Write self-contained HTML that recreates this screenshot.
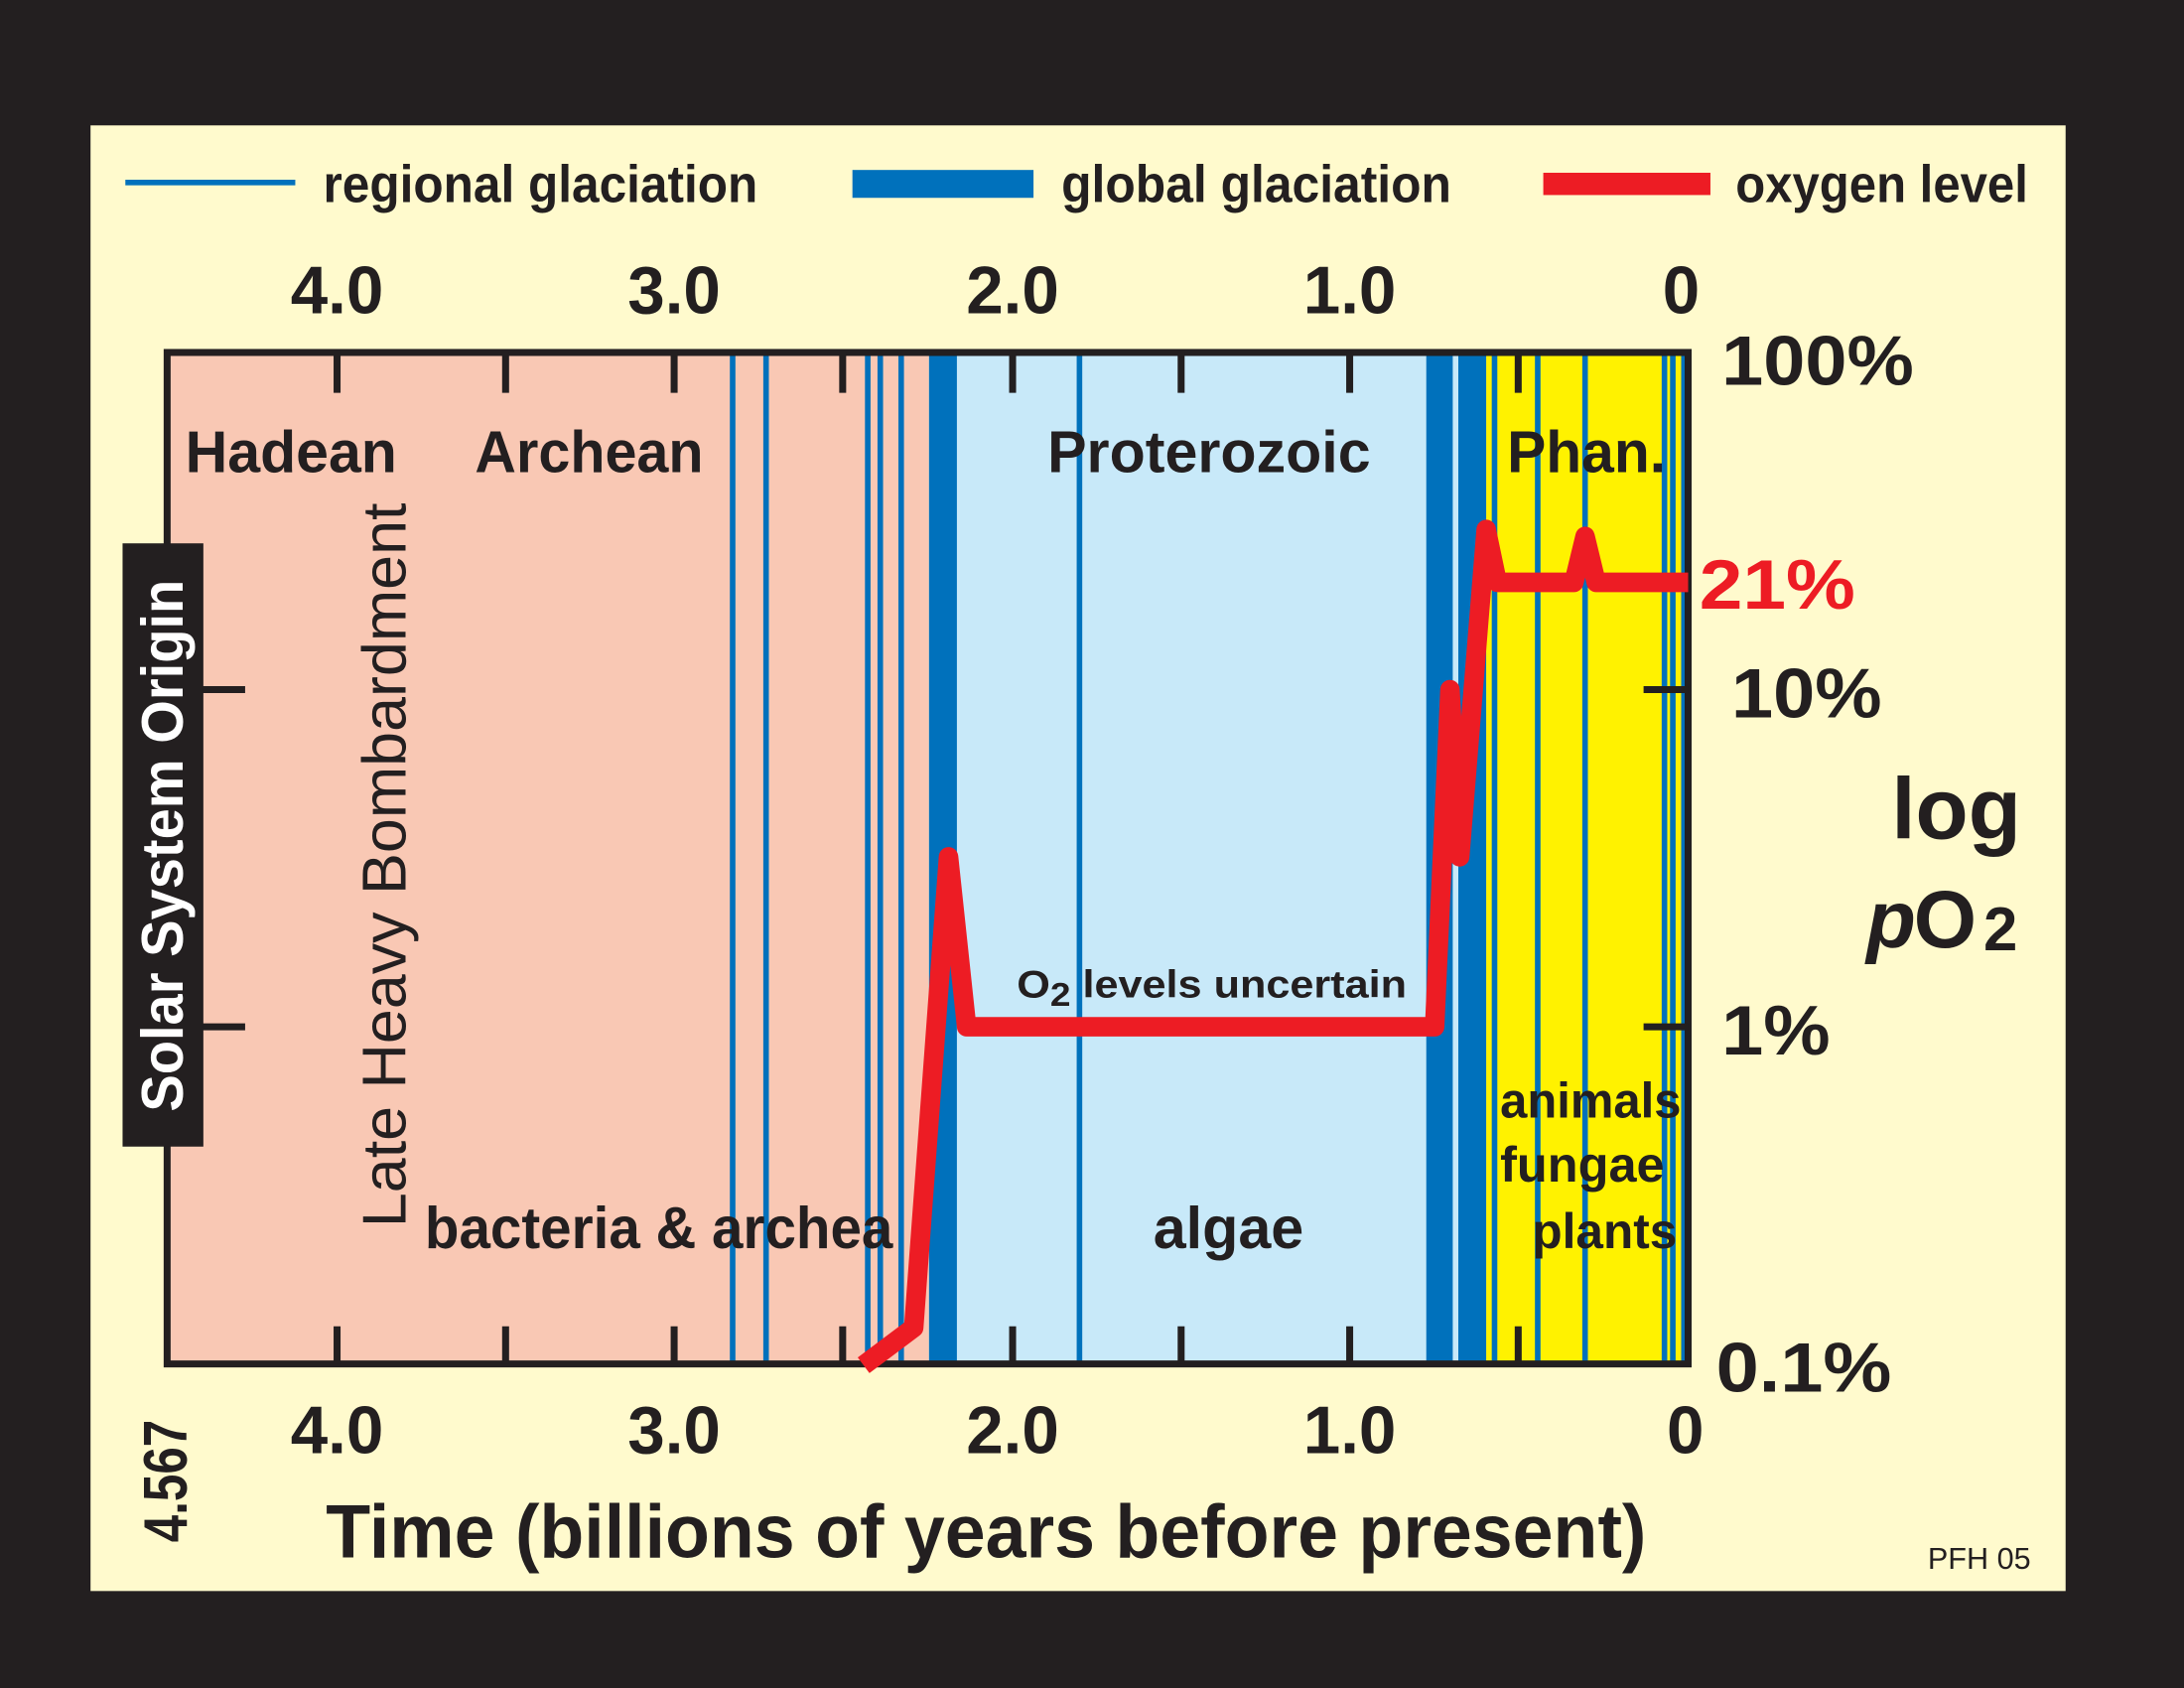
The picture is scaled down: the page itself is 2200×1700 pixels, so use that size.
<!DOCTYPE html>
<html><head><meta charset="utf-8"><style>
html,body{margin:0;padding:0;background:#231f20;}
svg{display:block;}
text{font-family:"Liberation Sans",sans-serif;fill:#231f20;font-weight:bold;}
</style></head><body>
<svg width="2200" height="1700" viewBox="0 0 1568 1211.6" preserveAspectRatio="none" xmlns="http://www.w3.org/2000/svg">
<rect x="0" y="0" width="1568" height="1212" fill="#231f20"/>
<rect x="65" y="90" width="1418" height="1052" fill="#fffacd"/>
<line x1="90" y1="131" x2="212" y2="131" stroke="#0071bc" stroke-width="4"/>
<text x="232" y="145" font-size="38" textLength="312" lengthAdjust="spacingAndGlyphs">regional glaciation</text>
<rect x="612" y="122" width="130" height="20" fill="#0071bc"/>
<text x="762" y="145" font-size="38" textLength="280" lengthAdjust="spacingAndGlyphs">global glaciation</text>
<rect x="1108" y="124" width="120" height="16" fill="#ed1c24"/>
<text x="1246" y="145" font-size="38" textLength="210" lengthAdjust="spacingAndGlyphs">oxygen level</text>
<rect x="120" y="253" width="547" height="726" fill="#f9c8b4"/>
<rect x="667" y="253" width="400" height="726" fill="#c8e9f9"/>
<rect x="1067" y="253" width="145" height="726" fill="#fff200"/>
<g fill="#0071bc">
<rect x="667" y="253" width="20" height="726"/>
<rect x="1024" y="253" width="19" height="726"/>
<rect x="1047" y="253" width="20" height="726"/>
</g>
<g stroke="#0071bc" stroke-width="4">
<line x1="526" y1="253" x2="526" y2="979"/><line x1="550" y1="253" x2="550" y2="979"/>
<line x1="623" y1="253" x2="623" y2="979"/><line x1="632" y1="253" x2="632" y2="979"/>
<line x1="647" y1="253" x2="647" y2="979"/><line x1="775" y1="253" x2="775" y2="979"/>
<line x1="1073" y1="253" x2="1073" y2="979"/><line x1="1104" y1="253" x2="1104" y2="979"/>
<line x1="1138" y1="253" x2="1138" y2="979"/><line x1="1195" y1="253" x2="1195" y2="979"/>
<line x1="1201" y1="253" x2="1201" y2="979"/><line x1="1209" y1="253" x2="1209" y2="979"/>
</g>
<rect x="120" y="253" width="1092" height="726" fill="none" stroke="#231f20" stroke-width="5"/>
<g stroke="#231f20" stroke-width="5">
<line x1="242" y1="253" x2="242" y2="282"/><line x1="363" y1="253" x2="363" y2="282"/><line x1="484" y1="253" x2="484" y2="282"/><line x1="605" y1="253" x2="605" y2="282"/><line x1="727" y1="253" x2="727" y2="282"/><line x1="848" y1="253" x2="848" y2="282"/><line x1="969" y1="253" x2="969" y2="282"/><line x1="1090" y1="253" x2="1090" y2="282"/>
<line x1="242" y1="979" x2="242" y2="952"/><line x1="363" y1="979" x2="363" y2="952"/><line x1="484" y1="979" x2="484" y2="952"/><line x1="605" y1="979" x2="605" y2="952"/><line x1="727" y1="979" x2="727" y2="952"/><line x1="848" y1="979" x2="848" y2="952"/><line x1="969" y1="979" x2="969" y2="952"/><line x1="1090" y1="979" x2="1090" y2="952"/>
<line x1="120" y1="495" x2="176" y2="495"/><line x1="120" y1="737" x2="176" y2="737"/>
<line x1="1180" y1="495" x2="1212" y2="495"/><line x1="1180" y1="737" x2="1212" y2="737"/>
</g>
<polyline points="620,980 656,953 681,615 694,737 1030,737 1041,495 1048,615 1067,380 1075,418 1130,418 1138,385 1146,418 1212,418" fill="none" stroke="#ed1c24" stroke-width="14" stroke-linejoin="round"/>
<g font-size="48" text-anchor="middle">
<text x="242" y="225">4.0</text><text x="484" y="225">3.0</text><text x="727" y="225">2.0</text><text x="969" y="225">1.0</text><text x="1207" y="225">0</text>
<text x="242" y="1043">4.0</text><text x="484" y="1043">3.0</text><text x="727" y="1043">2.0</text><text x="969" y="1043">1.0</text><text x="1210" y="1043">0</text>
</g>
<g font-size="50">
<text x="1236" y="276" textLength="138" lengthAdjust="spacingAndGlyphs">100%</text>
<text x="1243" y="515" textLength="108" lengthAdjust="spacingAndGlyphs">10%</text>
<text x="1236" y="757" textLength="78" lengthAdjust="spacingAndGlyphs">1%</text>
<text x="1232" y="999" textLength="126" lengthAdjust="spacingAndGlyphs">0.1%</text>
</g>
<text x="1220" y="437" font-size="50" style="fill:#ed1c24" textLength="112" lengthAdjust="spacingAndGlyphs">21%</text>
<text x="1451" y="602" font-size="62" text-anchor="end">log</text>
<text x="1340" y="680" font-size="58" font-style="italic">p</text>
<text x="1374" y="680" font-size="58">O</text>
<text x="1424" y="682" font-size="44">2</text>
<g font-size="42">
<text x="133" y="339" textLength="152" lengthAdjust="spacingAndGlyphs">Hadean</text>
<text x="341" y="339" textLength="164" lengthAdjust="spacingAndGlyphs">Archean</text>
<text x="752" y="339" textLength="232" lengthAdjust="spacingAndGlyphs">Proterozoic</text>
<text x="1082" y="339" textLength="114" lengthAdjust="spacingAndGlyphs">Phan.</text>
<text x="305" y="896" textLength="336" lengthAdjust="spacingAndGlyphs">bacteria &amp; archea</text>
<text x="828" y="896" textLength="108" lengthAdjust="spacingAndGlyphs">algae</text>
</g>
<g font-size="36">
<text x="1077" y="802" textLength="130" lengthAdjust="spacingAndGlyphs">animals</text>
<text x="1077" y="848" textLength="118" lengthAdjust="spacingAndGlyphs">fungae</text>
<text x="1100" y="896" textLength="104" lengthAdjust="spacingAndGlyphs">plants</text>
</g>
<text x="730" y="716" font-size="28" textLength="280" lengthAdjust="spacingAndGlyphs">O<tspan font-size="24" dy="6">2</tspan><tspan dy="-6"> levels uncertain</tspan></text>
<rect x="88" y="390" width="58" height="433" fill="#231f20"/>
<text transform="translate(131,798) rotate(-90)" font-size="42" style="fill:#fff" textLength="382" lengthAdjust="spacingAndGlyphs">Solar System Origin</text>
<text transform="translate(291,881) rotate(-90)" font-size="44" style="font-weight:normal" textLength="520" lengthAdjust="spacingAndGlyphs">Late Heavy Bombardment</text>
<text transform="translate(134,1107) rotate(-90)" font-size="44" textLength="88" lengthAdjust="spacingAndGlyphs">4.567</text>
<text x="234" y="1118" font-size="54" textLength="948" lengthAdjust="spacingAndGlyphs">Time (billions of years before present)</text>
<text x="1384" y="1126" font-size="22" style="font-weight:normal" textLength="74" lengthAdjust="spacingAndGlyphs">PFH 05</text>
</svg>
</body></html>
